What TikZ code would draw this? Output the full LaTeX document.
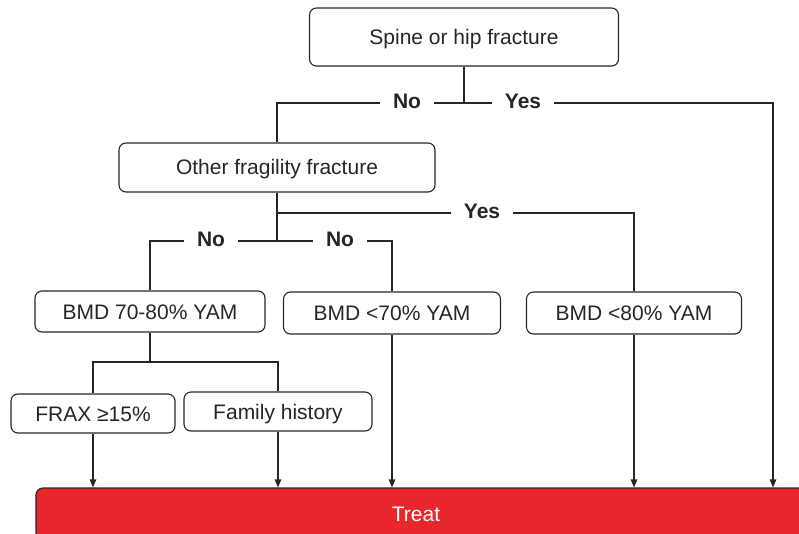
\documentclass[tikz,border=0pt]{standalone}
\usepackage{fontspec}
\setmainfont{Liberation Sans}
\usetikzlibrary{arrows.meta}
\definecolor{treatred}{RGB}{232,38,44}
\tikzset{
  qbox/.style={draw,rounded corners=7pt,inner sep=0pt,text height=15pt,text depth=0pt,font=\fontsize{21}{25}\selectfont},
  yesno/.style={fill=white,inner xsep=13pt,inner ysep=3pt,font=\fontsize{21}{25}\selectfont\bfseries},
  treatbox/.style={draw,fill=treatred,rounded corners=7pt,inner sep=0pt},
  arr/.style={-{Triangle[length=8pt,width=6.5pt]}},
}
\begin{document}
\begin{tikzpicture}[x=1pt,y=-1pt,line width=1.1pt,color=black!85]
\useasboundingbox (0,0) rectangle (799,534);
\pgfmathsetmacro{\ya}{103}
\pgfmathsetmacro{\yb}{213}
\pgfmathsetmacro{\yc}{241}
\pgfmathsetmacro{\yd}{362}
% boxes
\node[qbox,minimum width=309,minimum height=58] (spine) at (464,37) {Spine or hip fracture};
\node[qbox,minimum width=316,minimum height=49] (other) at (277,167.5) {Other fragility fracture};
\node[qbox,minimum width=230,minimum height=41] (bmdmid) at (150,311.5) {BMD 70-80\% YAM};
\node[qbox,minimum width=217,minimum height=42] (bmdlow) at (392,313) {BMD <70\% YAM};
\node[qbox,minimum width=215,minimum height=42] (bmdhigh) at (634,313) {BMD <80\% YAM};
\node[qbox,minimum width=164,minimum height=39] (frax) at (93,413.5) {FRAX ≥15\%};
\node[qbox,minimum width=188,minimum height=39] (family) at (278,411.5) {Family history};
\node[treatbox,minimum width=780,minimum height=52,
  label={[text=white,xshift=-10pt,font=\fontsize{21}{25}\selectfont]center:Treat}] (treat) at (426,514) {};
% branch points
\coordinate (ja) at (464,\ya);
\coordinate (jr) at (773,\ya);
\coordinate (jb) at (277,\yb);
\coordinate (jc) at (277,\yc);
\coordinate (jd) at (150,\yd);
% connectors
\draw (spine) -- (ja) -| (other);
\draw[arr] (ja) -- (jr) -- (jr |- treat.north);
\draw (other) -- (jc);
\draw (jb) -| (bmdhigh);
\draw (jc) -| (bmdmid);
\draw (jc) -| (bmdlow);
\draw (bmdmid) -- (jd);
\draw (jd) -| (frax);
\draw (jd) -| (family);
\foreach \n in {frax,family,bmdlow,bmdhigh}{\draw[arr] (\n) -- (\n |- treat.north);}
% labels
\node[yesno] (noa) at (407,\ya-2) {No};
\node[yesno] (yesa) at (523,\ya-2) {Yes};
\node[yesno] (yesb) at (482,\yb-2) {Yes};
\node[yesno] (nob) at (211,\yc-2) {No};
\node[yesno] (noc) at (340,\yc-2) {No};
\end{tikzpicture}
\end{document}
